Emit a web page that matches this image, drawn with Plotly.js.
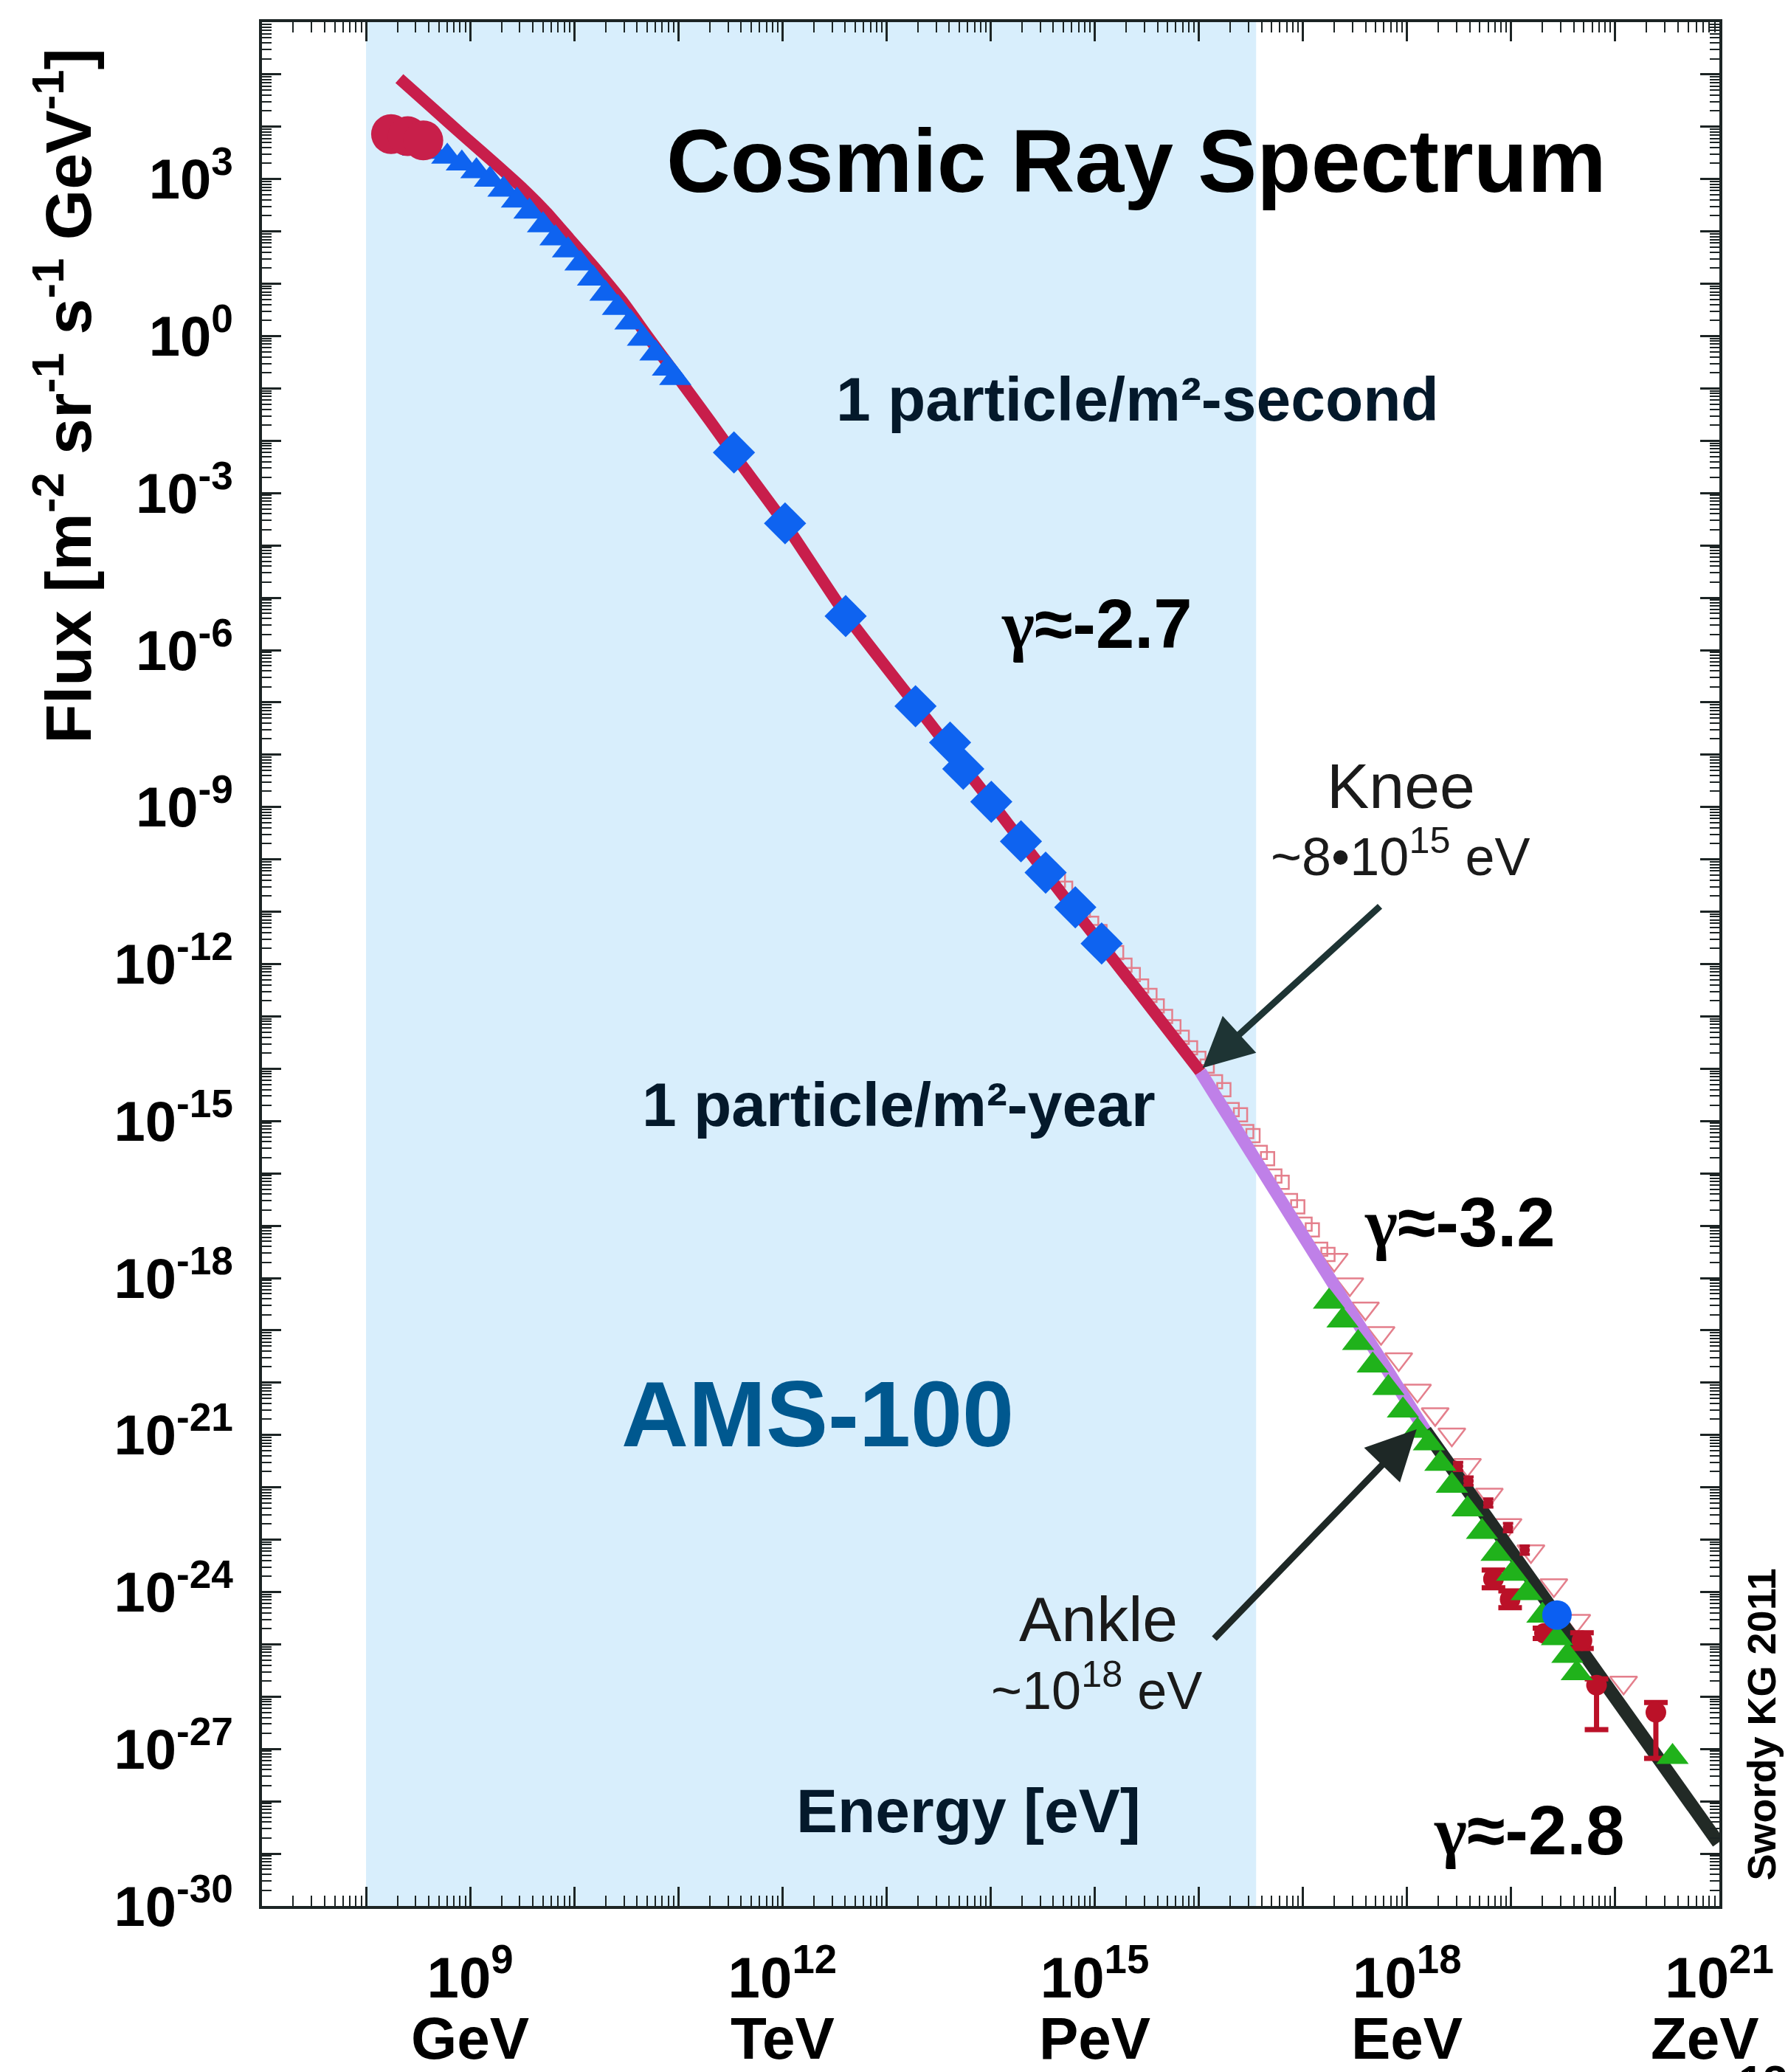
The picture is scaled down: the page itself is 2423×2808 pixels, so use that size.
<!DOCTYPE html>
<html>
<head>
<meta charset="utf-8">
<script src="https://cdn.plot.ly/plotly-3.0.1.min.js"></script>
<style>
html,body{margin:0;padding:0;background:#ffffff;}
#chart{width:2423px;height:2808px;}
</style>
</head>
<body>
<div id="chart"></div>
<script>
// All values are log10(E [eV]) and log10(Flux).

// Fitted spectrum line, three segments
const redLineE = [8.32, 8.62, 8.94, 9.26, 9.51, 9.73, 9.95, 10.20, 10.46, 10.71, 11.00, 11.31, 11.53, 12.03, 12.60, 13.30, 14.00, 14.70, 15.40, 16.015];
const redLineF = [4.92, 4.39, 3.82, 3.26, 2.81, 2.37, 1.87, 1.30, 0.67, -0.02, -0.80, -1.64, -2.25, -3.60, -5.30, -7.10, -8.89, -10.70, -12.48, -14.06];
const purpleLineE = [16.015, 17.10, 18.176];
const purpleLineF = [-14.06, -17.50, -20.92];
const blackLineE = [18.176, 19.00, 19.77, 20.41, 20.99];
const blackLineF = [-20.92, -23.20, -25.31, -27.14, -28.79];

// Low energy red blob (circles)
const blobE = [8.24, 8.40, 8.55];
const blobF = [3.86, 3.82, 3.74];

// Blue triangles
const blueTriE = [8.35, 8.50, 8.64, 8.78, 8.92, 9.06, 9.19, 9.32, 9.45, 9.57, 9.70, 9.82, 9.94, 10.06, 10.18, 10.30, 10.42, 10.54, 10.66, 10.78, 10.90, 10.97];
const blueTriF = [3.64, 3.58, 3.52, 3.43, 3.30, 3.15, 2.99, 2.80, 2.59, 2.38, 2.12, 1.87, 1.64, 1.39, 1.10, 0.81, 0.54, 0.26, -0.05, -0.33, -0.62, -0.80];

// Blue diamonds
const diamondE = [11.534, 12.025, 12.607, 13.278, 13.610, 13.737, 14.006, 14.291, 14.528, 14.813, 15.066];
const diamondF = [-2.224, -3.578, -5.350, -7.073, -7.767, -8.270, -8.899, -9.655, -10.253, -10.915, -11.607];

// Open pink squares (two overlapping rows)
const squareE = [14.65, 14.81, 14.97, 15.13, 15.29, 15.45, 15.60, 15.76, 15.92, 16.08, 16.24, 16.40, 16.52, 16.66, 16.80, 16.95, 17.09, 17.24];
const squareF = [-10.40, -10.82, -11.22, -11.62, -12.02, -12.42, -12.80, -13.20, -13.60, -13.95, -14.40, -14.88, -15.28, -15.72, -16.17, -16.64, -17.08, -17.55];
const square2E = [14.72, 14.89, 15.05, 15.21, 15.37, 15.53, 15.68, 15.84, 16.00, 16.16, 16.32, 16.46, 16.59, 16.73, 16.88, 17.02, 17.17];
const square2F = [-10.55, -10.97, -11.38, -11.78, -12.20, -12.60, -13.00, -13.40, -13.80, -14.25, -14.78, -15.20, -15.60, -16.05, -16.52, -16.97, -17.45];

// Open pink down triangles
const downTriE = [17.30, 17.45, 17.60, 17.75, 17.92, 18.10, 18.27, 18.43, 18.58, 18.79, 18.97, 19.19, 19.41, 19.63, 20.08];
const downTriF = [-17.65, -18.12, -18.58, -19.05, -19.55, -20.15, -20.60, -20.99, -21.57, -22.14, -22.72, -23.22, -23.87, -24.55, -25.73];

// Green triangles
const greenTriE = [17.25, 17.38, 17.53, 17.67, 17.82, 17.96, 18.10, 18.21, 18.32, 18.43, 18.58, 18.72, 18.86, 19.01, 19.15, 19.30, 19.44, 19.54, 19.63, 20.55];
const greenTriF = [-18.45, -18.81, -19.24, -19.67, -20.10, -20.53, -20.92, -21.16, -21.55, -21.97, -22.42, -22.85, -23.27, -23.65, -24.02, -24.45, -24.88, -25.22, -25.55, -27.15];

// Small dark red points along the line
const smallRedE = [18.49, 18.59, 18.78, 18.97, 19.13];
const smallRedF = [-21.60, -21.88, -22.30, -22.77, -23.20];
const smallRedErr = [0.08, 0.08, 0.08, 0.08, 0.08];

// Dark red points with error bars
const redDotE = [18.83, 18.99, 19.32, 19.68, 19.82, 20.39];
const redDotF = [-23.75, -24.14, -24.79, -24.93, -25.78, -26.30];
const redDotErrHi = [0.17, 0.16, 0.10, 0.15, 0.12, 0.19];
const redDotErrLo = [0.17, 0.16, 0.10, 0.15, 0.85, 0.88];

// Single blue circle
const blueCircE = [19.44];
const blueCircF = [-24.44];

// Axis ticks and labels
const xDecades = [7, 8, 9, 10, 11, 12, 13, 14, 15, 16, 17, 18, 19, 20, 21];
const xLabelled = [9, 12, 15, 18, 21];
const xUnits = ['GeV', 'TeV', 'PeV', 'EeV', 'ZeV'];
const yDecades = [];
for (let k = -30; k <= 6; k++) yDecades.push(k);
const yLabelled = [3, 0, -3, -6, -9, -12, -15, -18, -21, -24, -27, -30];
const amsRange = [8, 16.55];

const toLin = a => a.map(v => Math.pow(10, v));
const FONT = '"Liberation Sans", Arial, Helvetica, sans-serif';
const AXC = '#1c2424';

function errPlus(F, E) { return F.map((f, i) => Math.pow(10, f) * (Math.pow(10, E[i]) - 1)); }
function errMinus(F, E) { return F.map((f, i) => Math.pow(10, f) * (1 - Math.pow(10, -E[i]))); }

const traces = [
  {x: toLin(squareE), y: toLin(squareF), mode: 'markers',
   marker: {symbol: 'square-open', size: 18, color: '#e47f8c', line: {width: 2.5}}},
  {x: toLin(square2E), y: toLin(square2F), mode: 'markers',
   marker: {symbol: 'square-open', size: 18, color: '#e47f8c', line: {width: 2.5}}},
  {x: toLin(downTriE), y: toLin(downTriF), mode: 'markers',
   marker: {symbol: 'triangle-down-open', size: 32, color: '#e47f8c', line: {width: 2.5}}},
  {x: toLin(redLineE), y: toLin(redLineF), mode: 'lines',
   line: {color: '#c81e4b', width: 16, shape: 'spline', smoothing: 0.5}},
  {x: toLin(purpleLineE), y: toLin(purpleLineF), mode: 'lines',
   line: {color: '#bf80e8', width: 17}},
  {x: toLin(blackLineE), y: toLin(blackLineF), mode: 'lines',
   line: {color: '#222a26', width: 18}},
  {x: toLin(smallRedE), y: toLin(smallRedF), mode: 'markers',
   marker: {symbol: 'circle', size: 14, color: '#b5122a'},
   error_y: {type: 'data', symmetric: false, array: errPlus(smallRedF, smallRedErr),
     arrayminus: errMinus(smallRedF, smallRedErr), color: '#b5122a', thickness: 4, width: 7}},
  {x: toLin(blueTriE), y: toLin(blueTriF), mode: 'markers',
   marker: {symbol: 'triangle-up', size: 38, color: '#0e63f0'}},
  {x: toLin(blobE), y: toLin(blobF), mode: 'markers',
   marker: {symbol: 'circle', size: 54, color: '#c81f4a'}},
  {x: toLin(diamondE), y: toLin(diamondF), mode: 'markers',
   marker: {symbol: 'diamond', size: 44, color: '#0e63f0'}},
  {x: toLin(redDotE), y: toLin(redDotF), mode: 'markers',
   marker: {symbol: 'circle', size: 28, color: '#bb1128'},
   error_y: {type: 'data', symmetric: false, array: errPlus(redDotF, redDotErrHi),
     arrayminus: errMinus(redDotF, redDotErrLo), color: '#bb1128', thickness: 7, width: 16}},
  {x: toLin(greenTriE), y: toLin(greenTriF), mode: 'markers',
   marker: {symbol: 'triangle-up', size: 38, color: '#20b21b'}},
  {x: toLin(blueCircE), y: toLin(blueCircF), mode: 'markers',
   marker: {symbol: 'circle', size: 40, color: '#0b5ff2'}}
];
traces.forEach(t => { t.hoverinfo = 'skip'; t.showlegend = false; });

const xTickText = xDecades.map(d => xLabelled.indexOf(d) >= 0 ? ('10<sup>' + d + '</sup>') : '');
const yTickText = yDecades.map(d => yLabelled.indexOf(d) >= 0 ? ('10<sup>' + d + '</sup>') : '');

const NAVY = '#04192b';
const GAMMA = '<span style="font-family:\'Liberation Serif\', \'DejaVu Serif\', serif">γ</span>';
function ann(text, x, y, size, color, weight, extra) {
  return Object.assign({text: text, xref: 'paper', yref: 'paper', x: x, y: y,
    xanchor: 'center', yanchor: 'middle', showarrow: false,
    font: {family: FONT, size: size, color: color, weight: weight}}, extra || {});
}

const annotations = [
  ann('Cosmic Ray Spectrum', 0.600, 0.9263, 120, '#000000', 700),
  ann('1 particle/m²-second', 0.601, 0.8000, 84, NAVY, 700),
  ann(GAMMA + '≈-2.7', 0.5729, 0.6807, 94, '#000000', 700),
  ann('Knee', 0.7814, 0.5944, 86, '#1a1a1a', 400),
  ann('~8•10<sup>15</sup> eV', 0.7814, 0.5590, 72, '#1a1a1a', 400),
  ann('1 particle/m²-year', 0.4368, 0.4253, 84, NAVY, 700),
  ann(GAMMA + '≈-3.2', 0.8222, 0.3629, 94, '#000000', 700),
  ann('AMS-100', 0.3815, 0.2611, 126, '#00588f', 700),
  ann('Ankle', 0.5738, 0.1524, 86, '#1a1a1a', 400),
  ann('~10<sup>18</sup> eV', 0.5729, 0.1165, 72, '#1a1a1a', 400),
  ann('Energy [eV]', 0.4849, 0.0506, 84, NAVY, 700),
  ann(GAMMA + '≈-2.8', 0.8694, 0.0401, 94, '#000000', 700),
  ann('Swordy KG 2011', 1.0289, 0.0962, 54, '#000000', 700, {textangle: -90}),
  ann('Flux [m<sup>-2</sup> sr<sup>-1</sup> s<sup>-1</sup> GeV<sup>-1</sup>]', -0.1362, 0.8014, 88, '#000000', 700, {textangle: -90}),
  ann('13', 1.030, -0.0793, 60, '#000000', 700, {yanchor: 'top'}),
  // arrows (axis coordinates, log10 values)
  {xref: 'x', yref: 'y', axref: 'x', ayref: 'y', x: 16.036, y: -13.985, ax: 17.75, ay: -10.877,
   text: '', showarrow: true, arrowhead: 2, arrowsize: 1.5, arrowwidth: 9, arrowcolor: '#1e3434', standoff: 0, startstandoff: 0},
  {xref: 'x', yref: 'y', axref: 'x', ayref: 'y', x: 18.092, y: -20.89, ax: 16.138, ay: -24.91,
   text: '', showarrow: true, arrowhead: 2, arrowsize: 1.5, arrowwidth: 9, arrowcolor: '#1e2826', standoff: 0, startstandoff: 0}
];
// unit labels under the labelled energy ticks
xLabelled.forEach((d, i) => {
  annotations.push({text: xUnits[i], xref: 'x', yref: 'paper', x: (d === 21 ? 20.86 : d), y: -0.0705,
    xanchor: 'center', yanchor: 'middle', showarrow: false,
    font: {family: FONT, size: 80, color: '#000000', weight: 700}});
});

const layout = {
  width: 2423, height: 2808,
  margin: {l: 355, r: 93, t: 30, b: 225, pad: 0},
  paper_bgcolor: '#ffffff', plot_bgcolor: '#ffffff',
  showlegend: false,
  font: {family: FONT, color: '#000000'},
  xaxis: {
    type: 'log', range: [7, 21], fixedrange: true,
    tickmode: 'array', tickvals: toLin(xDecades), ticktext: xTickText,
    ticks: 'inside', ticklen: 26, tickwidth: 3, tickcolor: AXC,
    showline: true, linewidth: 4, linecolor: AXC, mirror: 'allticks',
    showgrid: false, zeroline: false,
    tickfont: {family: FONT, size: 78, color: '#000000', weight: 700},
    ticklabelstandoff: 26,
    minor: {ticks: 'inside', ticklen: 14, tickwidth: 2, tickcolor: AXC, dtick: 'D1', showgrid: false}
  },
  yaxis: {
    type: 'log', range: [-30, 6], fixedrange: true,
    tickmode: 'array', tickvals: toLin(yDecades), ticktext: yTickText,
    ticks: 'inside', ticklen: 26, tickwidth: 3, tickcolor: AXC,
    showline: true, linewidth: 4, linecolor: AXC, mirror: 'allticks',
    showgrid: false, zeroline: false,
    tickfont: {family: FONT, size: 76, color: '#000000', weight: 700},
    ticklabelstandoff: 20,
    minor: {ticks: 'inside', ticklen: 13, tickwidth: 2, tickcolor: AXC, dtick: 'D1', showgrid: false}
  },
  shapes: [
    {type: 'rect', xref: 'x', yref: 'paper', x0: Math.pow(10, amsRange[0]), x1: Math.pow(10, amsRange[1]),
     y0: 0, y1: 1, fillcolor: '#d8eefc', line: {width: 0}, layer: 'below'}
  ],
  annotations: annotations
};

Plotly.newPlot('chart', traces, layout, {staticPlot: true, displayModeBar: false});
</script>
</body>
</html>
